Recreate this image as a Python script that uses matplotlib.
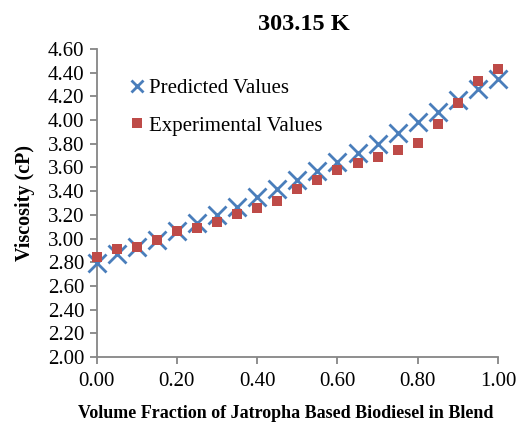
import matplotlib.pyplot as plt
from matplotlib.lines import Line2D

# volume fraction of jatropha biodiesel in the blend
fraction = [0.00, 0.05, 0.10, 0.15, 0.20, 0.25, 0.30, 0.35, 0.40, 0.45, 0.50,
            0.55, 0.60, 0.65, 0.70, 0.75, 0.80, 0.85, 0.90, 0.95, 1.00]

# viscosity at 303.15 K (cP)
predicted = [2.79, 2.87, 2.93, 2.99, 3.06, 3.13, 3.20, 3.27, 3.35, 3.42, 3.49,
             3.57, 3.65, 3.72, 3.80, 3.89, 3.98, 4.07, 4.17, 4.26, 4.35]
experimental = [2.84, 2.91, 2.93, 2.99, 3.06, 3.09, 3.14, 3.21, 3.26, 3.32, 3.42,
                3.49, 3.58, 3.64, 3.69, 3.75, 3.81, 3.97, 4.14, 4.33, 4.43]

x_ticks = [0.0, 0.2, 0.4, 0.6, 0.8, 1.0]
y_ticks = [2.0 + 0.2 * i for i in range(14)]

blue = '#4a7ebb'
red = '#be4b48'
grey = '#868686'

plt.rcParams['font.family'] = ['Liberation Serif', 'DejaVu Serif']

fig = plt.figure(figsize=(5.28, 4.28), dpi=100)
ax = fig.add_axes([0.1831, 0.1659, 0.760, 0.7196])

ax.plot(fraction, predicted, linestyle='none', marker='x', color=blue,
        markersize=13, markeredgewidth=2, clip_on=False, zorder=3)
ax.plot(fraction, experimental, linestyle='none', marker='s', color=red,
        markersize=7.5, markeredgewidth=0, clip_on=False, zorder=4)

ax.set_xlim(0, 1)
ax.set_ylim(2.0, 4.6)
ax.set_xticks(x_ticks)
ax.set_xticklabels(['%.2f' % v for v in x_ticks])
ax.set_yticks(y_ticks)
ax.set_yticklabels(['%.2f' % v for v in y_ticks])

for side in ['top', 'right']:
    ax.spines[side].set_visible(False)
for side in ['left', 'bottom']:
    ax.spines[side].set_color(grey)
    ax.spines[side].set_linewidth(1.3)
ax.tick_params(axis='both', direction='out', length=5, width=1.3, color=grey,
               labelsize=15, labelcolor='black')
ax.tick_params(axis='x', pad=6)
ax.tick_params(axis='y', pad=4)

ax.set_title('303.15 K', fontsize=17.5, fontweight='bold', pad=14, x=0.517)
ax.set_xlabel('Volume Fraction of Jatropha Based Biodiesel in Blend',
              fontsize=13, fontweight='bold')
ax.xaxis.set_label_coords(0.471, -0.155)
ax.set_ylabel('Viscosity (cP)', fontsize=14.5, fontweight='bold')
ax.yaxis.set_label_coords(-0.153, 0.5)

handles = [
    Line2D([], [], linestyle='none', marker='x', color=blue,
           markersize=8, markeredgewidth=2),
    Line2D([], [], linestyle='none', marker='s', color=red,
           markersize=7, markeredgewidth=0),
]
ax.legend(handles, ['Predicted Values', 'Experimental Values'],
          loc='upper left', bbox_to_anchor=(0.065, 0.93), frameon=False,
          fontsize=15, handlelength=0.6, handletextpad=0.25,
          labelspacing=0.85, borderaxespad=0)

fig.savefig('out.png', dpi=100)
